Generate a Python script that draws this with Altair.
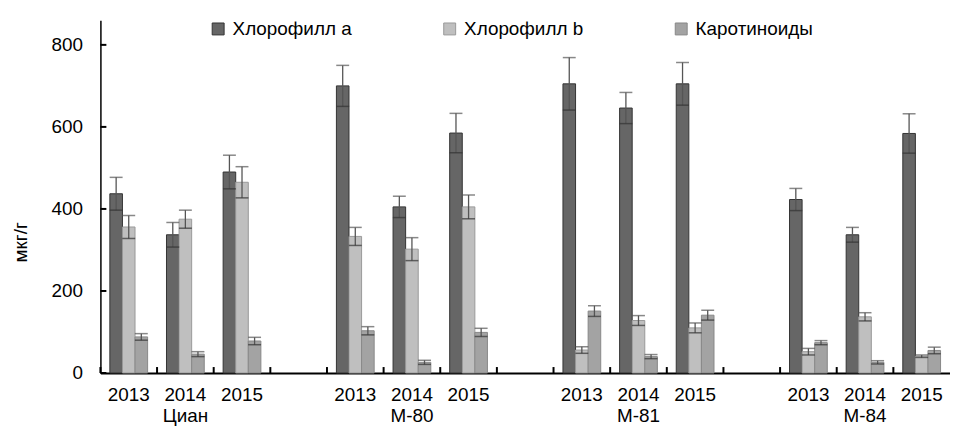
import altair as alt
import pandas as pd

groups = ["Циан", "М-80", "М-81", "М-84"]
years = ["2013", "2014", "2015"]
pigments = ["Хлорофилл a", "Хлорофилл b", "Каротиноиды"]

chl_a = [437, 337, 490, 700, 405, 585, 705, 646, 705, 423, 337, 584]
chl_a_err = [40, 30, 41, 50, 26, 48, 64, 38, 52, 27, 18, 48]
chl_b = [356, 375, 465, 333, 302, 405, 56, 128, 110, 52, 137, 41]
chl_b_err = [28, 22, 38, 22, 28, 29, 8, 12, 12, 8, 10, 3]
car = [88, 46, 78, 103, 26, 99, 151, 40, 141, 74, 26, 55]
car_err = [8, 6, 9, 10, 5, 10, 13, 5, 12, 5, 4, 8]

y_ticks = [0, 200, 400, 600, 800]

# slot domain: 3 years per group plus an empty slot between groups
slots = []
for gi, g in enumerate(groups):
    for yr in years:
        slots.append(f"{g}|{yr}")
    if gi < len(groups) - 1:
        slots.append(f"gap{gi + 1}")

rows = []
series = [(pigments[0], chl_a, chl_a_err), (pigments[1], chl_b, chl_b_err), (pigments[2], car, car_err)]
for name, vals, errs in series:
    i = 0
    for g in groups:
        for yr in years:
            v, e = vals[i], errs[i]
            rows.append({"slot": f"{g}|{yr}", "pigment": name, "value": v,
                         "lo": v - e, "hi": v + e})
            i += 1
df = pd.DataFrame(rows)

label_expr = ("indexof(datum.value,'|')<0 ? '' : "
              "(split(datum.value,'|')[1]=='2014' ? "
              "[split(datum.value,'|')[1], split(datum.value,'|')[0]] : "
              "split(datum.value,'|')[1])")

x_scale = alt.Scale(domain=slots, paddingInner=0, paddingOuter=0)
x_enc = alt.X(
    "slot:N",
    scale=x_scale,
    axis=alt.Axis(
        title=None, labelExpr=label_expr, labelAngle=0, labelFontSize=19,
        labelColor="black", labelPadding=13, labelLineHeight=20.5,
        labelBaseline="top", ticks=False,
        domainColor="black", domainWidth=2, labelFlush=False,
    ),
)
xoff = alt.XOffset("pigment:N", scale=alt.Scale(domain=pigments, paddingOuter=0.75, paddingInner=0))
y_scale = alt.Scale(domain=[0, 860], nice=False)

bars = alt.Chart(df).mark_bar(strokeWidth=1).encode(
    x=x_enc,
    xOffset=xoff,
    y=alt.Y("value:Q", scale=y_scale,
            axis=alt.Axis(values=y_ticks, title="мкг/г", titleFontSize=19,
                          titleFontWeight="normal", titleColor="black",
                          titleX=-74, titleY=223, titleBaseline="alphabetic",
                          titleAngle=270, titleAlign="center",
                          labelFontSize=19, labelColor="black", labelPadding=18,
                          ticks=False,
                          domainColor="black", domainWidth=1.5, grid=False)),
    color=alt.Color("pigment:N",
                    scale=alt.Scale(domain=pigments, range=["#666666", "#bfbfbf", "#a3a3a3"]),
                    legend=alt.Legend(title=None, orient="none", legendX=109, legendY=-1,
                                      direction="horizontal", symbolType="square",
                                      symbolSize=144, symbolStrokeWidth=1,
                                      symbolStrokeColor="#555555", labelFontSize=19,
                                      labelColor="black", labelOffset=5,
                                      columnPadding=89, labelLimit=400)),
    stroke=alt.Stroke("pigment:N",
                      scale=alt.Scale(domain=pigments, range=["#333333", "#999999", "#888888"]),
                      legend=None),
)

err = alt.Chart(df).mark_rule(color="#555555", strokeWidth=1.3).encode(
    x=alt.X("slot:N", scale=x_scale),
    xOffset=xoff,
    y=alt.Y("lo:Q", scale=y_scale),
    y2="hi:Q",
)
cap_hi = alt.Chart(df).mark_tick(color="#555555", thickness=1.5, size=13).encode(
    x=alt.X("slot:N", scale=x_scale),
    xOffset=xoff,
    y=alt.Y("hi:Q", scale=y_scale),
)
cap_lo = alt.Chart(df).mark_tick(color="#333333", thickness=1.5, size=13).encode(
    x=alt.X("slot:N", scale=x_scale),
    xOffset=xoff,
    y=alt.Y("lo:Q", scale=y_scale),
)

# inward axis ticks
slot_df = pd.DataFrame({"slot": slots})
xticks = alt.Chart(slot_df).mark_rule(color="black", strokeWidth=2).encode(
    x=alt.X("slot:N", scale=x_scale, bandPosition=0),
    y=alt.value(355), y2=alt.value(349),
)
ytick_df = pd.DataFrame({"v": y_ticks})
yticks = alt.Chart(ytick_df).mark_rule(color="black", strokeWidth=2).encode(
    y=alt.Y("v:Q", scale=y_scale),
    x=alt.value(0), x2=alt.value(6),
)

chart = alt.layer(bars, err, cap_hi, cap_lo, xticks, yticks).properties(
    width=855, height=355,
    padding={"left": 4, "top": 10, "right": 0, "bottom": 0},
).configure(font="Liberation Sans").configure_view(stroke=None)

chart.save("out.html", embed_options={"renderer": "svg", "actions": False})
